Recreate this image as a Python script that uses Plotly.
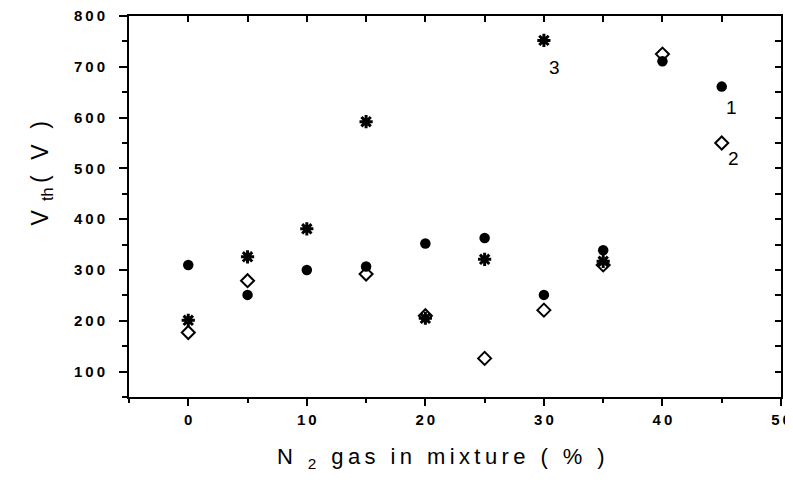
import plotly.graph_objects as go

# Series 1: filled circles
x1 = [0, 5, 10, 15, 20, 25, 30, 35, 40, 45]
y1 = [310, 251, 300, 307, 352, 363, 251, 339, 711, 661]
# Series 2: open diamonds
x2 = [0, 5, 15, 20, 25, 30, 35, 40, 45]
y2 = [177, 279, 292, 210, 126, 221, 310, 725, 550]
# Series 3: asterisks
x3 = [0, 5, 10, 15, 20, 25, 30, 35]
y3 = [201, 326, 381, 592, 205, 321, 752, 317]

x_ticks = [0, 10, 20, 30, 40, 50]
y_ticks = [100, 200, 300, 400, 500, 600, 700, 800]
sp = "\u2009"
x_ticktext = [sp.join(str(v)) for v in x_ticks]
y_ticktext = [sp.join(str(v)) for v in y_ticks]

series_labels = ["1", "2", "3"]
label_x = [45.8, 46.0, 30.9]
label_y = [620, 520, 699]


def spaced(s):
    return sp.join(s)


fig = go.Figure()
fig.add_trace(go.Scatter(x=x1, y=y1, mode="markers",
                         marker=dict(symbol="circle", size=10.5, color="black"),
                         showlegend=False, cliponaxis=False))
fig.add_trace(go.Scatter(x=x2, y=y2, mode="markers",
                         marker=dict(symbol="diamond-open", size=10, color="black",
                                     line=dict(width=2, color="black")),
                         showlegend=False, cliponaxis=False))
fig.add_trace(go.Scatter(x=x3, y=y3, mode="markers",
                         marker=dict(symbol="asterisk-open", size=11, color="black",
                                     line=dict(width=3, color="black")),
                         showlegend=False, cliponaxis=False))
# invisible trace for mirrored axes
fig.add_trace(go.Scatter(x=[None], y=[None], xaxis="x2", yaxis="y2", showlegend=False,
                         hoverinfo="skip"))

tickfont = dict(family="Liberation Sans, Arial", size=15, color="black", weight="bold")
fig.update_layout(
    width=793, height=483,
    margin=dict(l=121, r=20, t=8, b=94),
    paper_bgcolor="white", plot_bgcolor="white",
    xaxis=dict(range=[-5, 50], tickvals=x_ticks, ticktext=x_ticktext,
               ticks="outside", ticklen=7, tickwidth=2, tickcolor="black",
               showline=True, linewidth=2, linecolor="black", automargin=False,
               showgrid=False, zeroline=False, tickfont=tickfont,
               ticklabelstandoff=1, ticklabeloverflow="allow",
               minor=dict(dtick=5, tick0=0, ticks="outside", ticklen=4, tickwidth=2,
                          tickcolor="black", showgrid=False)),
    yaxis=dict(range=[50, 800], tickvals=y_ticks, ticktext=y_ticktext,
               ticks="outside", ticklen=8, tickwidth=2, tickcolor="black",
               showline=True, linewidth=2, linecolor="black", automargin=False,
               showgrid=False, zeroline=False, tickfont=tickfont,
               ticklabelstandoff=11, ticklabeloverflow="allow",
               minor=dict(dtick=50, tick0=0, ticks="outside", ticklen=5, tickwidth=2,
                          tickcolor="black", showgrid=False)),
    xaxis2=dict(range=[-5, 50], overlaying="x", side="top", anchor="y",
                tick0=0, dtick=5, ticks="inside", ticklen=6, tickwidth=2,
                tickcolor="black", showticklabels=False, showline=True, automargin=False,
                linewidth=2, linecolor="black", showgrid=False, zeroline=False),
    yaxis2=dict(range=[50, 800], overlaying="y", side="right", anchor="x",
                tick0=0, dtick=50, ticks="inside", ticklen=6, tickwidth=2,
                tickcolor="black", showticklabels=False, showline=True, automargin=False,
                linewidth=2, linecolor="black", showgrid=False, zeroline=False),
)

for t, lx, ly in zip(series_labels, label_x, label_y):
    fig.add_annotation(x=lx, y=ly, text=t, showarrow=False,
                       font=dict(family="Liberation Sans, Arial", size=19, color="black"))

fig.add_annotation(xref="paper", yref="paper", x=-0.1595, y=0.585,
                   text="V" + sp + sp + "<sub>th</sub>" + sp + spaced("( V )"),
                   textangle=-90, showarrow=False,
                   font=dict(family="Liberation Sans, Arial", size=23, color="black"))
fig.add_annotation(xref="paper", yref="paper", x=0.477, y=-0.203,
                   text="N" + sp + sp + " <sub>2</sub>" + sp + spaced(" gas in mixture ( % )"),
                   showarrow=False,
                   font=dict(family="Liberation Sans, Arial", size=22, color="black"))

fig.write_html("out.html")
